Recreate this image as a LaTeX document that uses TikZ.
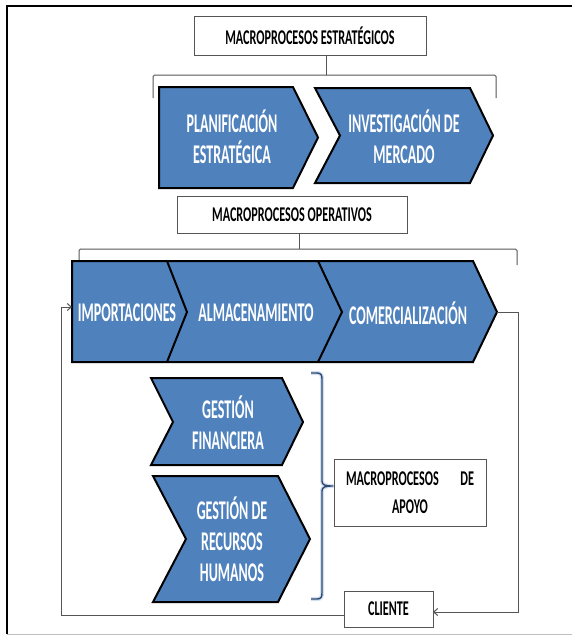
\documentclass[tikz,border=0pt]{standalone}
\usepackage{fontspec}
\newfontfamily\chevfont[FakeStretch=0.52]{Carlito}
\newfontfamily\labelfont[FakeStretch=0.58]{Carlito}
\usetikzlibrary{arrows.meta}
\definecolor{procblue}{HTML}{4F81BD}
\definecolor{bracegray}{HTML}{555555}
\definecolor{bracenavy}{HTML}{2C4A72}
\tikzset{
  chev/.style={fill=procblue, draw=black, line width=2pt, line join=miter},
  chevtext/.style={text=white, font=\chevfont\bfseries\fontsize{27}{31}\selectfont, align=center, inner sep=0pt},
  titlebox/.style={draw=bracegray, line width=1pt, fill=white},
  boxtext/.style={text=black, font=\labelfont\bfseries\fontsize{21}{28}\selectfont, align=center, inner sep=0pt},
  bracket/.style={draw=bracegray, line width=1pt, rounded corners=1.5pt},
  link/.style={draw=bracegray, line width=1pt},
  tipend/.style={-{Straight Barb[length=4pt,width=7pt]}}
}
\begin{document}
\begin{tikzpicture}[x=1pt,y=-1pt]
\useasboundingbox (0,0) rectangle (572,635);
% page frame
\draw[line width=2pt] (7,634) -- (7,6) -- (572,6);
\draw[gray!50, line width=1pt] (7,634) -- (572,634);

% strategic header and bracket
\draw[titlebox] (194,16) rectangle (426,55);
\node[boxtext] (hEst) at (310,35.5) {MACROPROCESOS ESTRATÉGICOS};
\coordinate (estTop) at (326,55);
\coordinate (estMid) at (326,75);
\draw[bracket] (153,98) -- (153,75) -- (496,75) -- (496,98);
\draw[link] (estTop) -- (estMid);

% strategic chevrons
\draw[chev] (159,87) -- (293,87) -- (318,137.5) -- (293,188) -- (159,188) -- cycle;
\node[chevtext] (plan) at (232,137) {PLANIFICACIÓN\\ESTRATÉGICA};
\draw[chev] (315,88) -- (470,88) -- (493,135.5) -- (470,183) -- (315,183) -- (340,135.5) -- cycle;
\node[chevtext] (merc) at (404,137) {INVESTIGACIÓN DE\\MERCADO};

% operative header and bracket
\draw[titlebox] (177,196) rectangle (407,233);
\node[boxtext] (hOp) at (292,214.5) {MACROPROCESOS OPERATIVOS};
\coordinate (opTop) at (299,233);
\coordinate (opMid) at (299,249);
\draw[bracket] (79,265) -- (79,249) -- (517,249) -- (517,265);
\draw[link] (opTop) -- (opMid);

% operative value chain
\draw[chev] (72,261) -- (473,261) -- (497,312) -- (473,362) -- (72,362) -- cycle;
\draw[chev, fill=none] (167,261) -- (187,312) -- (167,362);
\draw[chev, fill=none] (318,261) -- (342,312) -- (318,362);
\node[chevtext] (imp) at (127,313) {IMPORTACIONES};
\node[chevtext] (alm) at (256,313) {ALMACENAMIENTO};
\node[chevtext] (com) at (408,313) {COMERCIALIZACIÓN};
\coordinate (chainTip) at (497,312);
\coordinate (chainIn) at (72,307);

% support chevrons
\draw[chev] (151,378) -- (282,378) -- (303,422) -- (282,465) -- (151,465) -- (173,422) -- cycle;
\node[chevtext] (fin) at (228,422.5) {GESTIÓN\\FINANCIERA};
\draw[chev] (153,476) -- (278,476) -- (310,539) -- (278,602) -- (153,602) -- (186,539) -- cycle;
\node[chevtext] (rrhh) at (232,539) {GESTIÓN DE\\RECURSOS\\HUMANOS};

% support brace
\def\bracepath{(311,373) -- (317,373) .. controls (321,373) and (322,375) .. (322,379)
  -- (322,481) .. controls (322,485) and (325,486) .. (333,486)
  .. controls (325,486) and (322,487) .. (322,491)
  -- (322,593) .. controls (322,597) and (321,599) .. (317,599) -- (311,599)}
\draw[procblue!25, line width=4pt, line join=round] \bracepath;
\draw[bracenavy, line width=1.4pt, line join=round] \bracepath;

% support label
\draw[titlebox] (334,459) rectangle (486,526);
\node[boxtext, text width=128pt] (apoyo) at (410,493)
  {\makebox[128pt]{MACROPROCESOS\hfill DE}\\APOYO};

% customer and feedback loop
\draw[titlebox] (344,591) rectangle (433,627);
\node[boxtext] (cli) at (388.5,609) {CLIENTE};
\coordinate (cliIn) at (433,612);
\coordinate (cliOut) at (344,615);
\draw[link, tipend] (chainTip) -- (518,312) -- (518,612) -- (cliIn);
\draw[link, tipend] (cliOut) -- (61,615) -- (61,307) -- (chainIn);
\end{tikzpicture}
\end{document}
